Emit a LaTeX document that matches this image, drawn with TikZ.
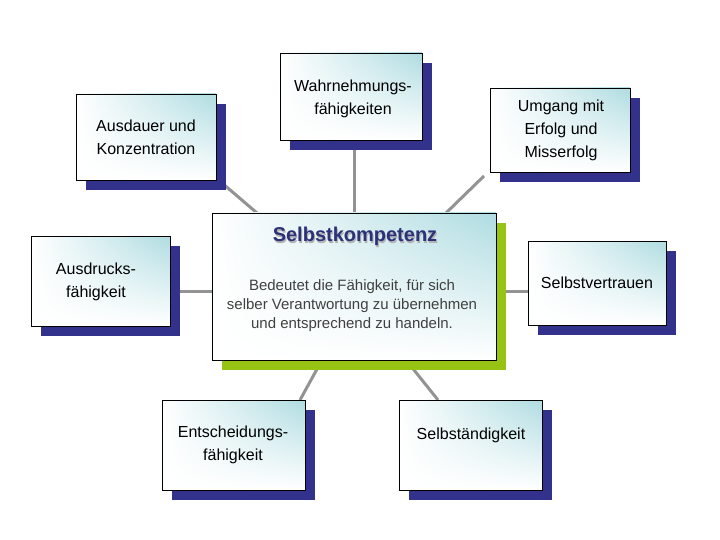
\documentclass[tikz,border=0pt]{standalone}
\usepackage{fontspec}
\setmainfont{Liberation Sans}
\usetikzlibrary{shadows,shadings}
\definecolor{sh}{RGB}{50,50,140}
\definecolor{gr}{RGB}{150,195,20}
\definecolor{cy}{RGB}{175,220,225}
\definecolor{ttl}{RGB}{45,50,120}
\tikzset{
 box/.style={draw=black, line width=0.8pt, shade, upper right=cy, upper left=white, lower left=white, lower right=white,
   general shadow={shadow xshift=10pt, shadow yshift=-10pt, fill=sh}, inner sep=0pt},
 cbox/.style={draw=black, line width=0.8pt, shade, upper right=cy, upper left=white, lower left=white, lower right=white,
   general shadow={shadow xshift=10pt, shadow yshift=-10pt, fill=gr}, inner sep=0pt},
 lbl/.style={align=center, font=\fontsize{16}{23}\selectfont},
 conn/.style={draw=gray!85, line width=3pt}
}
\begin{document}
\begin{tikzpicture}[x=1pt,y=-1pt]
\useasboundingbox (0,0) rectangle (720,540);
% connectors
\coordinate (c1) at (257,213); \coordinate (c2) at (354,213); \coordinate (c3) at (446,213);
\coordinate (c4) at (212,291); \coordinate (c5) at (496,291); \coordinate (c6) at (322,360); \coordinate (c7) at (406,360);
\coordinate (a1) at (222,183); \coordinate (a2) at (354,140); \coordinate (a3) at (484,176);
\coordinate (a4) at (180,291); \coordinate (a5) at (528,291); \coordinate (a6) at (300,400); \coordinate (a7) at (438,400);
\foreach \i in {1,...,7} \draw[conn] (a\i) -- (c\i);
% boxes
\node[box, minimum width=140pt, minimum height=86pt] (b1) at (146,137) {};
\node[box, minimum width=142pt, minimum height=87pt] (b2) at (351,96.5) {};
\node[box, minimum width=140pt, minimum height=84pt] (b3) at (560,130) {};
\node[box, minimum width=139pt, minimum height=90pt] (b4) at (100.5,281) {};
\node[box, minimum width=138pt, minimum height=84pt] (b5) at (597,283) {};
\node[box, minimum width=143pt, minimum height=90pt] (b6) at (233.5,445) {};
\node[box, minimum width=143pt, minimum height=90pt] (b7) at (470.5,445) {};
\node[cbox, minimum width=284pt, minimum height=147pt] (c) at (354,286.5) {};
% texts
\node[lbl] (t1) at (146,137) {Ausdauer und\\ Konzentration};
\node[lbl] (t2) at (353,99) {Wahrnehmungs-\\fähigkeiten};
\node[lbl] (t3) at (561,130) {Umgang mit\\Erfolg und\\Misserfolg};
\node[lbl] (t4) at (96,282) {Ausdrucks-\\fähigkeit};
\node[lbl] (t5) at (597,283) {Selbstvertrauen};
\node[lbl] (t6) at (233,445) {Entscheidungs-\\fähigkeit};
\node[lbl] (t7) at (471,435) {Selbständigkeit};
\node[font=\fontsize{20}{24}\selectfont\bfseries, text=gray!60] (ts) at (356,238) {Selbstkompetenz};
\node[font=\fontsize{20}{24}\selectfont\bfseries, text=ttl] (tt) at (355,236.5) {Selbstkompetenz};
\node[align=center, text=black!75, font=\fontsize{15}{19}\selectfont] (tb) at (352,306) {Bedeutet die Fähigkeit, für sich\\selber Verantwortung zu übernehmen\\und entsprechend zu handeln.};
\end{tikzpicture}
\end{document}
